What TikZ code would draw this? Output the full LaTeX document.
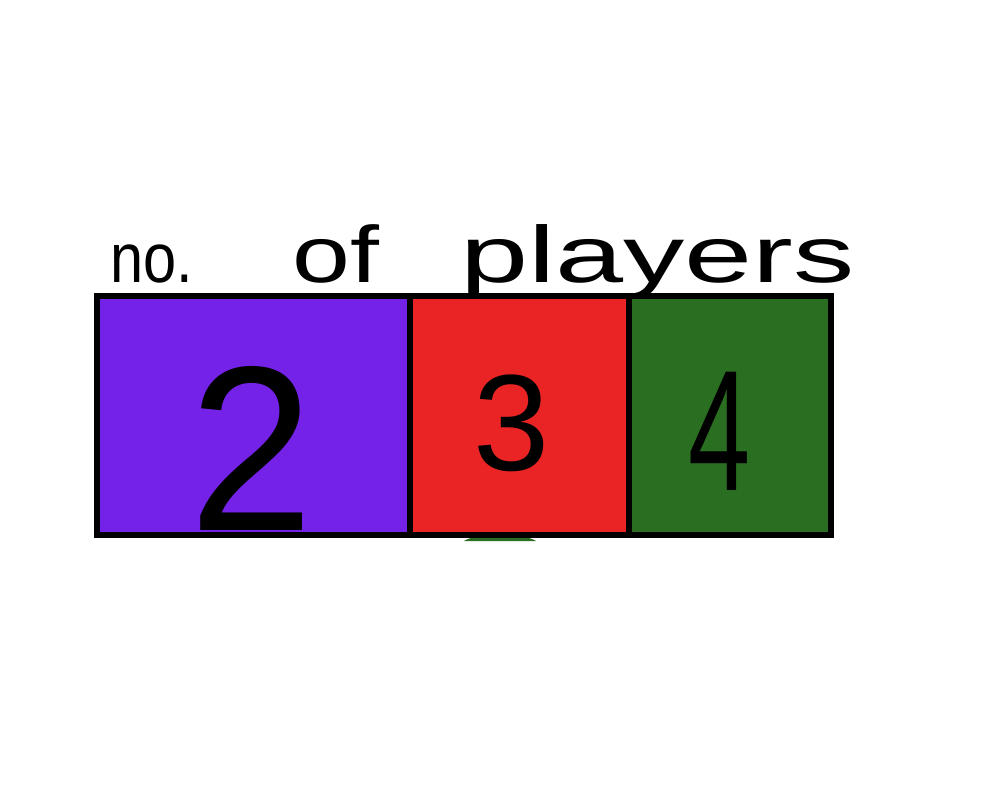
\documentclass[tikz,border=0pt]{standalone}
\usepackage{fontspec}
\setmainfont{Liberation Sans}
\definecolor{cpurple}{RGB}{116,34,232}
\definecolor{cred}{RGB}{234,36,36}
\definecolor{cgreen}{RGB}{42,110,34}
\tikzset{
  cell/.style={draw=black, line width=6.5pt, anchor=north west, inner sep=0pt, outer sep=0pt, minimum height=239pt},
  digit/.style={anchor=base, inner sep=0pt, text=black},
  word/.style={anchor=base west, inner sep=0pt, text=black, font=\fontsize{80}{80}\selectfont}
}
\begin{document}
\begin{tikzpicture}[x=1pt,y=-1pt]
\useasboundingbox (0,0) rectangle (1000,800);
% green blob peeking below the red cell
\fill[cgreen] (464,541) .. controls (478,532) and (522,532) .. (536,541) -- cycle;
% cells
\node[cell, fill=cpurple, minimum width=313pt] (two) at (97,296) {};
\node[cell, fill=cred, minimum width=219pt] (three) at (410,296) {};
\node[cell, fill=cgreen, minimum width=202pt] (four) at (629,296) {};
% digits
\node[digit, font=\fontsize{235}{235}\selectfont, xscale=0.95] (d2) at (252,530) {2};
\node[digit, font=\fontsize{137}{137}\selectfont] (d3) at (512,470) {3};
\node[digit, font=\fontsize{172}{172}\selectfont, xscale=0.65] (d4) at (720,490) {4};
% heading
\node[word, font=\fontsize{70}{70}\selectfont, xscale=0.85] (w1) at (110,282) {no.};
\node[word, xscale=1.3] (w2) at (292,282) {of};
\node[word, xscale=1.53] (w3) at (460,282) {players};
\end{tikzpicture}
\end{document}
